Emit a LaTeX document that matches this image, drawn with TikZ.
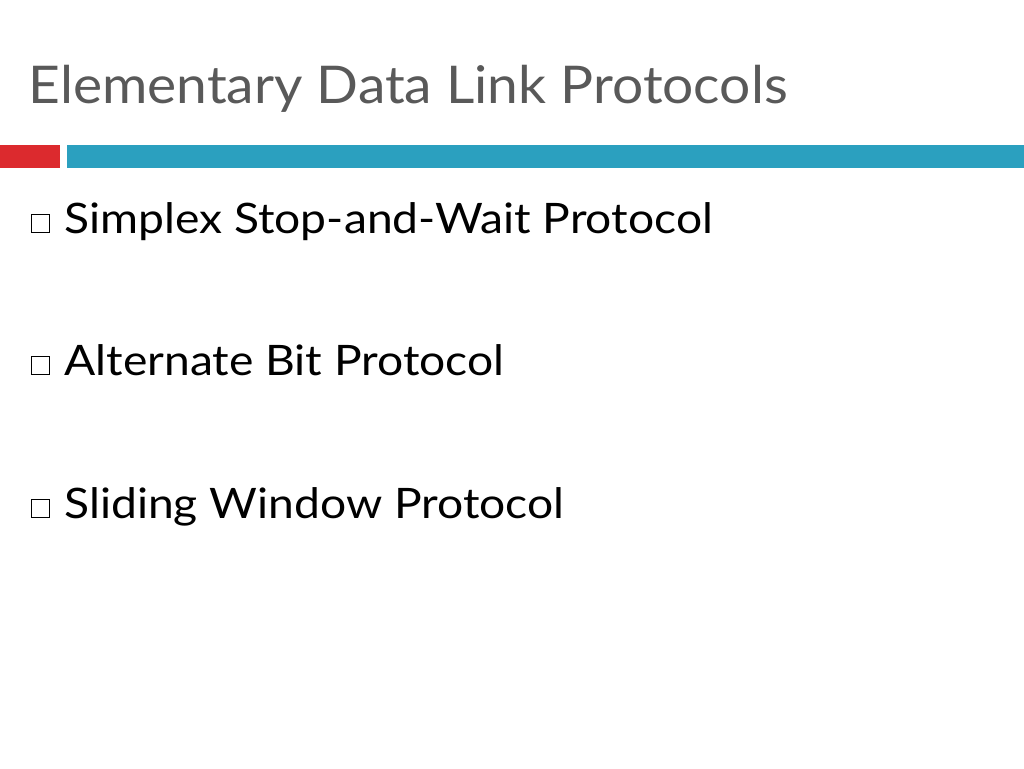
\documentclass[tikz,border=0pt]{standalone}
\usepackage{fontspec}
\setmainfont{Lato}
\definecolor{titlegray}{HTML}{595959}
\definecolor{barred}{HTML}{DC2A2E}
\definecolor{barblue}{HTML}{2BA0BF}

\begin{document}
\begin{tikzpicture}[x=0.5pt, y=-0.5pt,
    bullettext/.style={anchor=base west, font=\fontsize{21}{24}\selectfont, text=black, inner sep=0pt, xscale=1.1},
    bulletbox/.style={draw=black, line width=0.6pt, minimum size=9pt, inner sep=0pt}]
    \useasboundingbox (0,0) rectangle (1024,768);

    % title
    \node[anchor=base west, inner sep=0pt, text=titlegray, xscale=1.06,
          font=\fontsize{26}{30}\selectfont] (title) at (28,103) {Elementary Data Link Protocols};

    % bars
    \fill[barred] (0,145) rectangle (60,168);
    \fill[barblue] (67,145) rectangle (1024,168);

    % bullets
    \foreach \y/\txt/\nm in {233/Simplex Stop-and-Wait Protocol/sw,
                             375/Alternate Bit Protocol/ab,
                             518/Sliding Window Protocol/sl}{
        \node[bulletbox, anchor=south west] (box\nm) at (31,\y) {};
        \node[bullettext] (item\nm) at (64,\y) {\txt};
    }
\end{tikzpicture}
\end{document}
